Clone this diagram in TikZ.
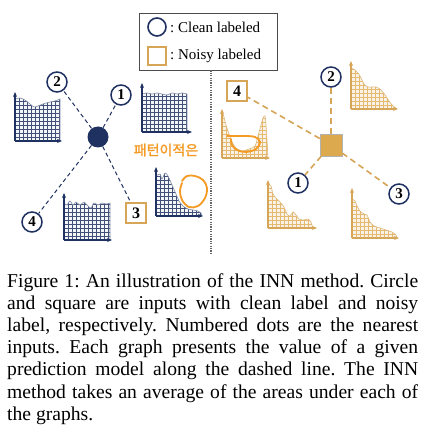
\documentclass[tikz,border=0pt]{standalone}
\usepackage{fontspec}
\setmainfont{Liberation Serif}
\newfontfamily\kofont[FakeBold=1.6]{Noto Sans CJK KR}
\usetikzlibrary{arrows.meta}
\frenchspacing
\definecolor{navy}{HTML}{1F3160}
\definecolor{tan}{HTML}{D6A557}
\definecolor{tanfill}{HTML}{DDA94E}
\definecolor{tanlight}{HTML}{E6B970}
\definecolor{handorange}{HTML}{F59A23}
\tikzset{
  numc/.style={circle, draw=navy, line width=1.5pt, fill=white, minimum size=20pt, inner sep=0pt, font=\bfseries\fontsize{15}{15}\selectfont},
  numsq/.style={rectangle, draw=tan, line width=1.9pt, fill=white, minimum size=20pt, inner sep=0pt, font=\bfseries\fontsize{16}{16}\selectfont},
  ndash/.style={draw=navy, line width=1pt, dash pattern=on 4pt off 3pt},
  tdash/.style={draw=tan, line width=1.6pt, dash pattern=on 6pt off 4pt},
  naxis/.style={draw=navy, line width=1.2pt, -{Stealth[length=5pt,width=4pt]}},
  taxis/.style={draw=tan, line width=1.2pt, -{Stealth[length=5pt,width=4pt]}},
  ngrid/.style={draw=navy!85, line width=0.4pt},
  tgrid/.style={draw=tanlight, line width=0.45pt},
  nfill/.style={fill=navy!5},
  tfill/.style={fill=tan!14},
  nedge/.style={draw=navy!55, line width=0.6pt},
  tedge/.style={draw=tan!80, line width=0.6pt},
  hand/.style={draw=handorange, line width=1.8pt, line cap=round, line join=round},
  legtext/.style={anchor=west, inner sep=0pt, font=\fontsize{15}{16}\selectfont},
  captext/.style={anchor=base west, inner sep=0pt, font=\fontsize{19.6}{22}\selectfont}
}
% #1 kind n/t, #2 x0, #3 y0 (origin), #4 x-axis end, #5 y-axis top, #6 curve, #7 right x of fill
\newcommand\mychart[7]{%
  \begin{scope}
    \clip (#2,#3) -- plot[smooth, tension=0.5] coordinates {#6} -- (#7,#3) -- cycle;
    \path[#1fill] (#2,#3) rectangle (#4,#5);
    \foreach \i in {0,...,14} {
      \draw[#1grid] ({#2+4*\i},#5) -- ({#2+4*\i},#3);
      \draw[#1grid] (#2,{#3-4*\i}) -- (#4,{#3-4*\i});
    }
  \end{scope}
  \draw[#1edge] plot[smooth, tension=0.5] coordinates {#6} -- (#7,#3);
  \draw[#1axis] (#2,#3) -- (#2,#5);
  \draw[#1axis] (#2,#3) -- (#4,#3);
}
\begin{document}
\begin{tikzpicture}[x=1pt, y=-1pt]
\useasboundingbox (0,0) rectangle (427,427);
\fill[white] (0,0) rectangle (427,427);

% legend
\node[draw=black!70, line width=0.8pt, minimum width=138pt, minimum height=57pt, inner sep=0pt] (leg) at (208,41.5) {};
\node[circle, draw=navy, line width=1.6pt, minimum size=18pt, inner sep=0pt] (lc) at (157,27) {};
\node[legtext] (lct) at (170,27) {: Clean labeled};
\node[draw=tan, line width=1.6pt, minimum size=18pt, inner sep=0pt] (ls) at (157,56) {};
\node[legtext] (lst) at (170,56) {: Noisy labeled};

% separator
\coordinate (sepb) at (211,255);
\draw[black!60, line width=1.2pt, dash pattern=on 1.2pt off 1.2pt] (leg.south -| sepb) -- (sepb);

% ---------- left side ----------
\mychart{n}{15}{141}{62}{92}{(15,99) (20,98) (25,100) (30,104) (34,107) (38,106) (43,104) (50,102) (55,101) (60,99)}{60}
\mychart{n}{142}{132}{192}{83}{(142,94) (147,93) (152,94) (157,93) (162,94) (167,95) (172,93) (177,94) (182,93) (187,94)}{187}
\mychart{n}{64}{240}{112}{193}{(64,203) (67,205) (70,201) (73,205) (76,202) (80,205) (84,202) (88,206) (91,208) (94,203) (98,205) (102,203) (106,204) (110,203)}{110}
\mychart{n}{156}{216}{203}{167}{(156,176) (160,174) (162,179) (165,173) (168,176) (172,185) (176,194) (179,201) (183,206) (188,209) (193,210) (198,211) (201,213) (202,216)}{202}

\node[fill=navy, circle, minimum size=21pt, inner sep=0pt] (cc) at (98,137) {};
\node[numc] (l1) at (121,95) {1};
\node[numc] (l2) at (57,82) {2};
\node[numsq] (l3) at (136,213) {3};
\node[numc] (l4) at (32,222) {4};
\draw[ndash] (cc) -- (l1);
\draw[ndash] (cc) -- (l2);
\draw[ndash] (cc) -- (l3);
\draw[ndash] (cc) -- (l4);

\node[text=handorange, inner sep=0pt, font=\kofont\fontsize{14}{14}\selectfont] (ko) at (166,150) {패턴이적은};
\draw[hand] plot[smooth, tension=0.6] coordinates {(182,181) (187,176) (195,176) (203,180) (207,188) (205,198) (198,206) (189,207) (182,200) (180,191) (182,183)};

% ---------- right side ----------
\mychart{t}{351}{109}{398}{61}{(351,68) (355,70) (358,73) (361,78) (364,84) (368,87) (376,87) (381,90) (385,95) (389,101) (393,106) (396,108)}{396}
\mychart{t}{222}{158}{270}{109}{(222,111) (224,117) (226,125) (229,134) (232,142) (236,148) (242,151) (249,149) (255,146) (258,136) (261,125) (263,118) (265,116) (266,125) (267,140)}{268}
\mychart{t}{268}{228}{317}{180}{(268,184) (271,186) (273,194) (276,198) (280,202) (284,207) (287,214) (290,216) (293,212) (296,215) (299,219) (304,220) (308,219) (311,222)}{313}
\mychart{t}{352}{238}{399}{188}{(352,199) (355,201) (357,206) (360,211) (364,214) (367,215) (370,222) (374,226) (380,228) (386,230) (392,232) (396,235)}{397}

\draw[hand] plot[smooth, tension=0.6] coordinates {(227,136) (234,136) (245,136) (255,137) (260,142) (256,149) (246,152) (237,150) (232,145) (231,139)};

\node[fill=tanfill, draw=black!30, line width=0.5pt, minimum size=22pt, inner sep=0pt] (sq) at (331,145) {};
\node[numc] (r2) at (331,77) {2};
\node[numsq] (r4) at (237,91) {4};
\node[numc] (r1) at (298,183) {1};
\node[numc] (r3) at (399,194) {3};
\draw[tdash] (sq) -- (r2);
\draw[tdash] (sq) -- (r4);
\draw[tdash] (sq) -- (r1);
\draw[tdash] (sq) -- (r3);

% ---------- caption ----------
\node[captext] (c1) at (7,287) {\makebox[411pt][s]{Figure 1: An illustration of the INN method. Circle}};
\node[captext] (c2) at (7,309.2) {\makebox[411pt][s]{and square are inputs with clean label and noisy}};
\node[captext] (c3) at (7,331.4) {\makebox[411pt][s]{label, respectively. Numbered dots are the nearest}};
\node[captext] (c4) at (7,353.6) {\makebox[411pt][s]{inputs. Each graph presents the value of a given}};
\node[captext] (c5) at (7,375.8) {\makebox[411pt][s]{prediction model along the dashed line. The INN}};
\node[captext] (c6) at (7,398) {\makebox[411pt][s]{method takes an average of the areas under each of}};
\node[captext] (c7) at (7,420) {the graphs.};
\end{tikzpicture}
\end{document}
